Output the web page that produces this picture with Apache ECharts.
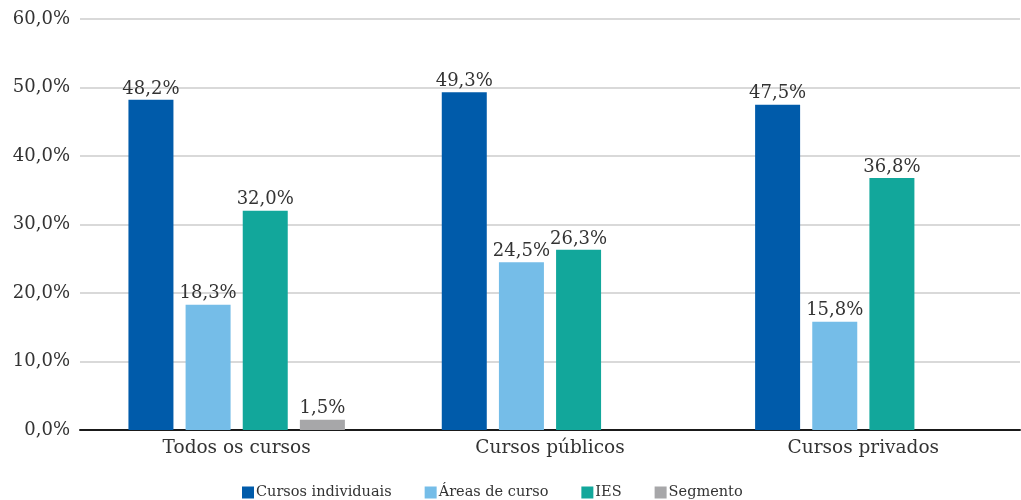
<!DOCTYPE html>
<html>
<head>
<meta charset="utf-8">
<script src="https://cdn.jsdelivr.net/npm/echarts@6/dist/echarts.min.js"></script>
<style>
  html, body { margin: 0; padding: 0; background: #fff; }
  #chart { width: 1021px; height: 500px; }
</style>
</head>
<body>
<div id="chart"></div>
<script>
// Categories and series values (percent)
const categories = ['Todos os cursos', 'Cursos públicos', 'Cursos privados'];
const seriesNames = ['Cursos individuais', 'Áreas de curso', 'IES', 'Segmento'];
const cursosIndividuais = [48.2, 49.3, 47.5];
const areasDeCurso = [18.3, 24.5, 15.8];
const ies = [32.0, 26.3, 36.8];
const segmento = [1.5, null, null];
const colors = ['#005BAA', '#75BDE8', '#12A79B', '#A7A7A9'];

const fontFamily = '"DejaVu Serif", serif';
const textColor = '#333333';
const fmt = v => v.toFixed(1).replace('.', ',') + '%';

const values = [cursosIndividuais, areasDeCurso, ies, segmento];

const chart = echarts.init(document.getElementById('chart'));
chart.setOption({
  animation: false,
  textStyle: { fontFamily: fontFamily },
  grid: { left: 80, right: 1, top: 19, bottom: 70, containLabel: false },
  legend: {
    bottom: -5,
    left: 237,
    itemWidth: 12,
    itemHeight: 12,
    itemGap: 33,
    icon: 'rect',
    textStyle: { fontFamily: fontFamily, fontSize: 14.5, color: textColor, padding: [0, 0, 0, -3] },
    data: seriesNames
  },
  xAxis: {
    type: 'category',
    data: categories,
    axisLine: { lineStyle: { color: '#1a1a1a', width: 2 } },
    axisTick: { show: false },
    axisLabel: { fontFamily: fontFamily, fontSize: 18.5, color: textColor, margin: 9 }
  },
  yAxis: {
    type: 'value',
    min: 0,
    max: 60,
    interval: 10,
    axisLine: { show: false },
    axisTick: { show: false },
    splitLine: { lineStyle: { color: '#D9D9D9', width: 2 } },
    axisLabel: {
      fontFamily: fontFamily, fontSize: 18, color: textColor, margin: 10,
      formatter: v => v.toFixed(1).replace('.', ',') + '%'
    }
  },
  series: seriesNames.map((name, i) => ({
    name: name,
    type: 'bar',
    data: values[i],
    barWidth: 45,
    barGap: '27%',
    itemStyle: { color: colors[i] },
    label: {
      show: true,
      position: 'top',
      distance: 2,
      fontFamily: fontFamily,
      fontSize: 18,
      color: textColor,
      formatter: p => (p.value == null ? '' : fmt(p.value))
    }
  }))
});
</script>
</body>
</html>
